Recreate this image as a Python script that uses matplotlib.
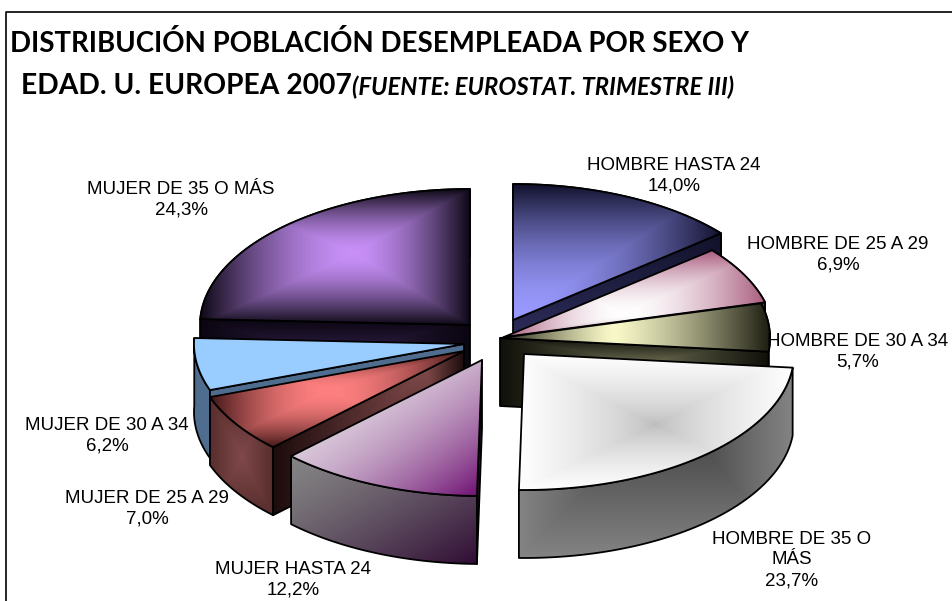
import numpy as np
import matplotlib
matplotlib.use('Agg')
import matplotlib.pyplot as plt
from matplotlib.colors import to_rgb
from matplotlib.patches import Polygon

# data
names = ['HOMBRE HASTA 24', 'HOMBRE DE 25 A 29', 'HOMBRE DE 30 A 34', 'HOMBRE DE 35 O\nMÁS',
         'MUJER HASTA 24', 'MUJER DE 25 A 29', 'MUJER DE 30 A 34', 'MUJER DE 35 O MÁS']
values = [14.0, 6.9, 5.7, 23.7, 12.2, 7.0, 6.2, 24.3]

# layout, everything in pixels of the picture
RX, RY, DEPTH = 270, 136, 68
apex = [(513, 320), (504, 337), (500, 338), (524, 354), (482, 360), (464, 351), (464, 344), (470, 325)]
label_pos = [(674, 176), (838, 255), (858, 352), (792, 560), (293, 580), (147, 509), (107, 436), (181, 200)]
draw_order = [7, 0, 1, 2, 6, 5, 4, 3]

# gradients: (inner colour, outer colour, focus x, focus y in the bbox, power)
# focus x None = diagonal, focus y None = only horizontal
top_grad = [('#9a9aff', '#10102a', 0.0, 1.0, 1.8),
            ('#ffffff', '#a85a7c', 0.45, 0.75, 1.7),
            ('#f8f8c8', '#1c1c10', 0.42, None, 1.3),
            ('#bcbcbc', '#ffffff', 0.5, 0.52, 0.7),
            ('#e8e2e8', '#6c0c70', None, 0.0, 2.0),
            ('#ff8080', '#3c1414', 0.47, 0.4, 1.8),
            ('#99ccff', '#99ccff', 0.5, 0.5, 1.0),
            ('#c890f8', '#0c0814', 0.57, 0.47, 1.6)]
cut_grad = [('#3a3a70', '#12122c', 0.0, 1.0, 1.0),
            ('#a0507a', '#60304c', 0.5, 0.5, 1.0),
            ('#6a6a50', '#10100a', 0.55, 0.3, 1.0),
            ('#808080', '#505050', 0.5, 0.5, 1.0),
            ('#302030', '#0c0410', 0.5, 0.5, 1.0),
            ('#80494a', '#1c0c0c', 0.8, 0.1, 1.0),
            ('#4f6d8e', '#4f6d8e', 0.5, 0.5, 1.0),
            ('#32204a', '#0a0610', 0.5, 0.5, 1.0)]
arc_grad = [('#1c1c3c', '#101020', 0.5, 0.5, 1.0),
            ('#80305c', '#60204a', 0.5, 0.5, 1.0),
            ('#30301c', '#10100a', 0.5, 0.5, 1.0),
            ('#383838', '#848484', 0.55, 0.2, 1.0),
            ('#848484', '#300c34', None, 0.0, 1.3),
            ('#80494a', '#562c2c', 0.5, 0.5, 1.0),
            ('#4f6d8e', '#4f6d8e', 0.5, 0.5, 1.0),
            ('#1c1028', '#0a0610', 0.5, 0.5, 1.0)]

plt.rcParams['font.family'] = ['Liberation Sans', 'DejaVu Sans']
fig = plt.figure(figsize=(9.52, 6.01), dpi=100)
ax = fig.add_axes([0, 0, 1, 1])
ax.set_xlim(0, 952)
ax.set_ylim(601, 0)
ax.axis('off')
ax.set_autoscale_on(False)


def point(center, angle):
    return center[0] + RX * np.sin(angle), center[1] - RY * np.cos(angle)


def fill_face(xy, grad, z):
    # rectangular path gradient, clipped to the face outline
    xy = np.array(xy)
    x0, y0 = np.floor(xy.min(axis=0))
    x1, y1 = np.ceil(xy.max(axis=0))
    inner, outer, fx, fy, power = grad
    w, h = max(int(x1 - x0), 2), max(int(y1 - y0), 2)
    xx, yy = np.meshgrid((np.arange(w) + .5) / w, (np.arange(h) + .5) / h)
    if fx is None:
        t = (xx + yy) / 2
    else:
        t = np.where(xx < fx, (fx - xx) / max(fx, 1e-6), (xx - fx) / max(1 - fx, 1e-6))
        if fy is not None:
            dy = np.where(yy < fy, (fy - yy) / max(fy, 1e-6), (yy - fy) / max(1 - fy, 1e-6))
            t = np.maximum(t, dy)
    t = np.clip(t, 0, 1)[..., None] ** power
    img = np.array(to_rgb(inner)) * (1 - t) + np.array(to_rgb(outer)) * t
    outline = Polygon(xy, closed=True, fill=False, ec='black', lw=1.3, joinstyle='round', zorder=z + .1)
    ax.add_patch(outline)
    im = ax.imshow(img, extent=(x0, x1, y1, y0), aspect='auto', interpolation='bilinear', zorder=z)
    im.set_clip_path(outline)


edges = 2 * np.pi * np.cumsum([0] + values) / sum(values)

for k, i in enumerate(draw_order):
    a0, a1 = edges[i], edges[i + 1]
    c = apex[i]
    arc = [point(c, a) for a in np.linspace(a0, a1, 60)]
    low = [(x, y + DEPTH) for x, y in arc]
    base = k * 4 + 2
    # outer wall first, then only the cut faces that look at the viewer, then the top
    fill_face(arc + low[::-1], arc_grad[i], base)
    if np.sin(a0) < -1e-6:
        corner = arc[0]
        fill_face([c, corner, (corner[0], corner[1] + DEPTH), (c[0], c[1] + DEPTH)], cut_grad[i], base + 1)
    if np.sin(a1) > 1e-6:
        corner = arc[-1]
        fill_face([c, corner, (corner[0], corner[1] + DEPTH), (c[0], c[1] + DEPTH)], cut_grad[i], base + 1)
    fill_face([c] + arc, top_grad[i], base + 2)

    ax.text(label_pos[i][0], label_pos[i][1],
            names[i] + '\n' + f'{values[i]:.1f}%'.replace('.', ','),
            ha='center', va='center', fontsize=13.5, color='black', linespacing=1.28, zorder=60)

# chart frame, open on the right
ax.plot([6, 6, 952], [601, 12, 12], color='black', lw=1.2, zorder=70)

ax.text(10, 43, 'DISTRIBUCIÓN POBLACIÓN DESEMPLEADA POR SEXO Y', family='Lato', fontweight='bold',
        fontsize=19.9, va='center', ha='left', zorder=70)
ax.text(21, 86, 'EDAD. U. EUROPEA 2007', family='Lato', fontweight='bold',
        fontsize=20.3, va='center', ha='left', zorder=70)
ax.text(352, 87, '(FUENTE: EUROSTAT. TRIMESTRE III)', family='Lato', fontweight='bold', style='italic',
        fontsize=17.2, va='center', ha='left', zorder=70)

fig.savefig('out.png', dpi=100)
